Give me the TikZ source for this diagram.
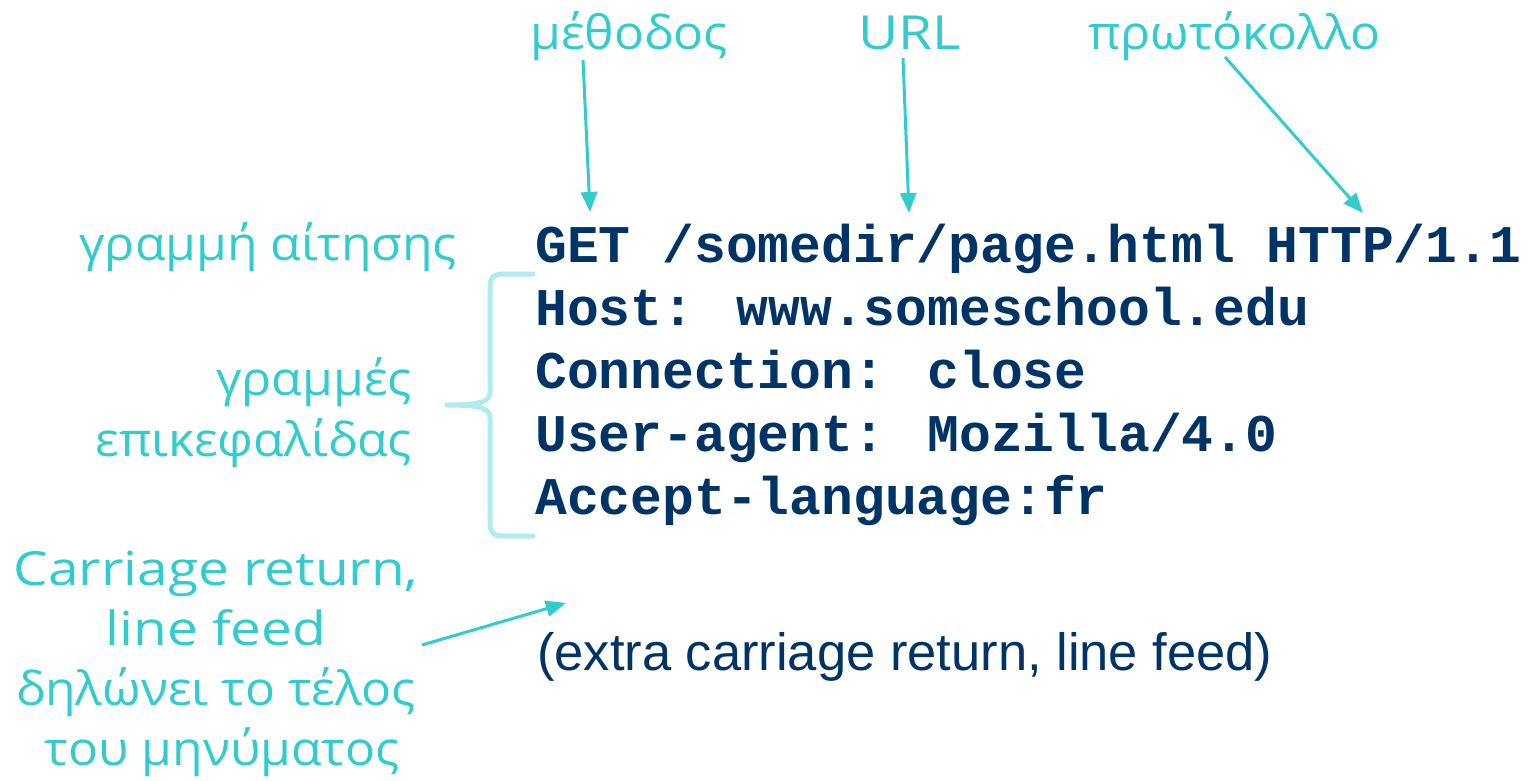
\documentclass[tikz,border=0pt]{standalone}
\usepackage{fontspec}
\setmainfont{Open Sans}
\newfontfamily\grlbl[FakeStretch=1.06]{Open Sans}
\newfontfamily\latlbl[FakeStretch=1.17]{Open Sans}
\newfontfamily\codefont{Liberation Mono}
\newfontfamily\arialfont{Liberation Sans}
\usetikzlibrary{arrows.meta}
\definecolor{cyanlbl}{HTML}{33CCCC}
\definecolor{bracecol}{HTML}{B0ECEC}
\definecolor{navy}{HTML}{003366}
\begin{document}
\begin{tikzpicture}[x=1pt,y=-1pt,
  lbl/.style={inner sep=0pt,text=cyanlbl,font=\grlbl\fontsize{47}{60}\selectfont},
  latinlbl/.style={inner sep=0pt,text=cyanlbl,font=\latlbl\fontsize{47}{60}\selectfont},
  code/.style={inner sep=0pt,anchor=base west,text=navy,font=\codefont\bfseries\fontsize{53}{63}\selectfont},
  arr/.style={draw=cyanlbl,line width=3pt,-{Triangle[length=20pt,width=16pt]}}]
\useasboundingbox (0,0) rectangle (1532,781);
% code lines
\node[code] (l1) at (535,262) {GET /somedir/page.html HTTP/1.1};
\node[code] (l2) at (535,325) {Host: www.someschool.edu};
\node[code] (l3) at (535,388) {Connection: close};
\node[code] (l4) at (535,451) {User-agent: Mozilla/4.0};
\node[code] (l5) at (535,514) {Accept-language:fr};
\node[inner sep=0pt,anchor=base west,text=navy,font=\arialfont\fontsize{52.5}{60}\selectfont] (extra) at (537,670) {(extra carriage return, line feed)};
% top labels
\node[lbl,anchor=base west] (meth) at (530,50) {μέθοδος};
\node[latinlbl,anchor=base west] (url) at (858,50) {URL};
\node[lbl,anchor=base west] (prot) at (1088,50) {πρωτόκολλο};
\coordinate (methE) at (590,212);
\coordinate (urlE) at (909,213);
\coordinate (protE) at (1363,213);
\draw[arr] (583,60) -- (methE);
\draw[arr] (903,58) -- (urlE);
\draw[arr] (1225,57) -- (protE);
% left labels
\node[lbl,anchor=base east] (req) at (457,260) {γραμμή αίτησης};
\node[lbl,anchor=base east] (hdr1) at (412,395) {γραμμές};
\node[lbl,anchor=base east] (hdr2) at (412,456) {επικεφαλίδας};
\node[latinlbl,anchor=base] (cr1) at (216,585) {Carriage return,};
\node[latinlbl,anchor=base] (cr2) at (216,645) {line feed};
\node[lbl,anchor=base] (cr3) at (216,705) {δηλώνει το τέλος};
\node[lbl,anchor=base] (cr4) at (222,765) {του μηνύματος};
\coordinate (crS) at (422,645);
\coordinate (crE) at (566,603);
\draw[arr] (crS) -- (crE);
% brace
\draw[bracecol,line width=5pt,line cap=round,line join=round]
  (533,274) -- (503,274) .. controls (491,274) and (490,280) .. (490,290)
  -- (490,392) .. controls (490,402) and (480,405) .. (447,405)
  .. controls (480,405) and (490,408) .. (490,418)
  -- (490,520) .. controls (490,530) and (491,536) .. (503,536) -- (533,536);
\end{tikzpicture}
\end{document}
